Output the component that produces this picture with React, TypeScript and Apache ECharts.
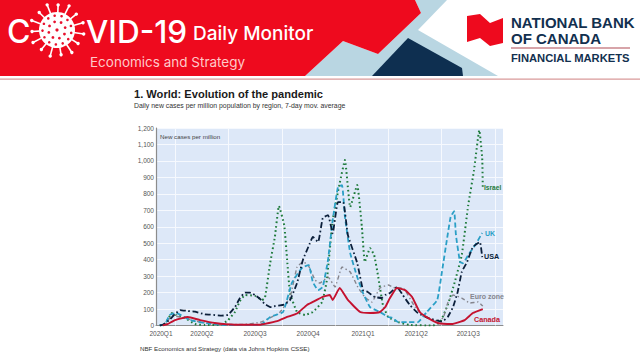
import React, { useEffect, useRef } from "react";
import * as echarts from "echarts";

// x = days since 2020-01-01, y = daily new cases per million
const usaDays = [65, 70, 82, 91, 100, 113, 125, 142, 151, 171, 182, 194, 202, 211, 219, 228, 237, 245, 254, 262, 271, 279, 288, 300, 310, 322, 327, 336, 344, 353, 361, 370, 379, 387, 403, 413, 421, 433, 445, 451, 459, 471, 481, 493, 507, 524, 548, 558, 567, 575, 582, 591, 601, 613, 617];
const usaVals = [0, 4, 35, 70, 94, 88, 84, 68, 66, 60, 65, 114, 165, 200, 200, 185, 160, 130, 112, 118, 122, 128, 155, 258, 398, 500, 538, 507, 653, 671, 560, 750, 750, 550, 380, 215, 204, 173, 167, 185, 197, 234, 185, 125, 76, 46, 23, 52, 112, 204, 325, 386, 477, 507, 416];
const israelDays = [65, 74, 86, 93, 108, 125, 142, 168, 182, 194, 202, 211, 228, 240, 245, 254, 262, 269, 278, 283, 288, 300, 314, 327, 343, 351, 361, 373, 382, 391, 403, 411, 416, 425, 432, 439, 447, 456, 473, 493, 533, 545, 558, 570, 582, 593, 603, 612, 617, 618];
const israelVals = [0, 10, 76, 64, 46, 9, 3, 3, 33, 84, 148, 185, 180, 155, 167, 380, 538, 726, 610, 398, 197, 82, 64, 82, 143, 276, 640, 865, 1005, 720, 853, 598, 386, 470, 428, 295, 125, 52, 21, 3, 0, 21, 125, 264, 428, 730, 944, 1187, 1017, 834];
const ukDays = [65, 74, 82, 93, 117, 142, 177, 237, 254, 276, 291, 302, 310, 320, 327, 336, 344, 353, 361, 370, 377, 382, 391, 403, 413, 425, 442, 456, 463, 473, 490, 507, 522, 540, 548, 557, 563, 569, 572, 579, 584, 593, 605, 617];
const ukVals = [0, 8, 64, 76, 33, 15, 3, 3, 52, 82, 258, 319, 355, 367, 264, 215, 234, 398, 640, 841, 853, 660, 440, 295, 197, 112, 82, 52, 46, 21, 21, 21, 82, 155, 325, 532, 660, 695, 550, 386, 378, 428, 489, 562];
const euroDays = [65, 74, 86, 108, 134, 168, 211, 237, 254, 271, 288, 300, 310, 319, 331, 339, 353, 365, 377, 391, 404, 416, 428, 442, 456, 468, 481, 502, 516, 536, 550, 558, 567, 582, 596, 610, 618];
const euroVals = [0, 5, 60, 45, 20, 7, 7, 20, 46, 82, 173, 355, 386, 367, 276, 258, 295, 234, 355, 325, 234, 173, 143, 228, 246, 228, 228, 112, 64, 27, 46, 137, 185, 167, 137, 143, 118];
const canadaDays = [70, 78, 91, 113, 134, 159, 194, 237, 242, 266, 283, 300, 317, 327, 343, 356, 361, 373, 387, 408, 425, 442, 451, 459, 471, 485, 497, 510, 524, 541, 565, 587, 601, 618];
const canadaVals = [0, 8, 33, 52, 33, 15, 5, 5, 8, 27, 52, 73, 125, 143, 173, 185, 155, 228, 155, 82, 76, 82, 112, 167, 228, 215, 173, 82, 46, 15, 9, 33, 76, 100];

const quarterStarts = [91, 182, 274, 366, 456, 547, 639];
const labelDays = [67, 137, 228, 319, 413, 504, 593];
const quarterLabels = ["2020Q1", "2020Q2", "2020Q3", "2020Q4", "2021Q1", "2021Q2", "2021Q3"];

const zip = (xs: number[], ys: number[]) => xs.map((x, i) => [x, ys[i]]);

function virus() {
  const cx = 57, cy = 30;
  const kids: any[] = [{ type: "circle", shape: { cx, cy, r: 18 }, style: { fill: "#fff" } }];
  for (let i = 0; i < 15; i++) {
    const a = (i / 15) * Math.PI * 2 + 0.15;
    const rEnd = i % 2 ? 25 : 27;
    const ex = cx + Math.cos(a) * rEnd, ey = cy + Math.sin(a) * rEnd;
    kids.push({ type: "line", shape: { x1: cx + Math.cos(a) * 15, y1: cy + Math.sin(a) * 15, x2: ex, y2: ey }, style: { stroke: "#fff", lineWidth: 1.6 } });
    kids.push({ type: "circle", shape: { cx: ex, cy: ey, r: 1.7 }, style: { fill: "#fff" } });
  }
  const ring = (r: number, n: number, s: number, off: number) => {
    for (let i = 0; i < n; i++) {
      const a = (i / n) * Math.PI * 2 + off;
      kids.push({ type: "circle", shape: { cx: cx + Math.cos(a) * r, cy: cy + Math.sin(a) * r, r: s }, style: { fill: "#e8112d" } });
    }
  };
  ring(14.5, 13, 1.3, 0.2);
  ring(8.5, 8, 1.4, 0.5);
  ring(0, 1, 1.6, 0);
  return kids;
}

const txt = (text: string, x: number, y: number, font: string, fill: string, extra: any = {}) => ({
  type: "text", x, y, z: 100, style: { text, font, fill, textVerticalAlign: "middle", ...extra },
});

const F = '"Liberation Sans", Arial, sans-serif';

export default function App() {
  const ref = useRef<HTMLDivElement>(null);
  useEffect(() => {
    document.body.style.margin = "0";
    const chart = echarts.init(ref.current!, null, { renderer: "svg" });
    const line = (name: string, data: number[][], color: string, type: any, width: number, z: number) => ({
      name, type: "line", data, showSymbol: false, symbol: "none", smooth: 0.12, z,
      lineStyle: { color, type, width, cap: "butt" },
    });
    chart.setOption({
      animation: false,
      backgroundColor: "#fff",
      grid: { left: 156, top: 128, width: 347, height: 197.5, show: true, backgroundColor: "#dde8f8", borderWidth: 0 },
      xAxis: {
        type: "value", min: 58.5, max: 652.6,
        axisLine: { show: true, onZero: false, lineStyle: { color: "#8c8c8c", width: 1 } },
        axisTick: { show: false, customValues: quarterStarts },
        splitLine: { show: false },
        axisLabel: {
          customValues: labelDays,
          formatter: (v: number) => quarterLabels[labelDays.indexOf(v)] ?? "",
          fontFamily: F, fontSize: 6.5, color: "#555", margin: 4,
        },
      },
      yAxis: {
        type: "value", min: 0, max: 1200, interval: 100,
        axisLine: { show: true, lineStyle: { color: "#8c8c8c", width: 1.2 } },
        axisTick: { show: false },
        splitLine: { show: true, lineStyle: { color: "#f6f9fe", width: 1 } },
        axisLabel: { fontFamily: F, fontSize: 6.5, color: "#555", margin: 2 },
      },
      series: [
        {
          name: "Quarter grid", type: "line", data: [], z: 1,
          markLine: {
            silent: true, symbol: "none", animation: false, z: 1, label: { show: false },
            lineStyle: { color: "#f6f9fe", width: 1, type: "solid" },
            data: quarterStarts.map((xAxis) => ({ xAxis })),
          },
        },
        line("Israel", zip(israelDays, israelVals), "#1d7a3a", [1.6, 2.8], 2, 2),
        line("Euro zone", zip(euroDays, euroVals), "#85858d", [4, 2.6, 1.4, 2.6], 1.4, 3),
        line("UK", zip(ukDays, ukVals), "#2a9fc6", [5, 2.8], 1.8, 4),
        line("USA", zip(usaDays, usaVals), "#0b1f3a", [6, 2.6, 1.6, 2.6], 1.8, 5),
        line("Canada", zip(canadaDays, canadaVals), "#c4122f", "solid", 1.9, 6),
      ],
      graphic: [
        { type: "rect", shape: { x: 0, y: 0, width: 640, height: 76 }, style: { fill: "#fff" } },
        { type: "polygon", shape: { points: [[343, 41], [378, 54], [421, 13], [415, 0], [447, 0], [418, 30], [498, 76], [305, 76]] }, style: { fill: "#b9d6e2" } },
        { type: "polygon", shape: { points: [[0, 0], [415, 0], [421, 13], [378, 54], [343, 41], [305, 76], [0, 76]] }, style: { fill: "#ee0a1e" } },
        { type: "polygon", shape: { points: [[408, 38], [462, 68], [463, 76], [372, 76]] }, style: { fill: "#0e2f50" } },
        { type: "rect", shape: { x: 0, y: 78.5, width: 640, height: 1.2 }, style: { fill: "#d99a9a" } },
        txt("C", 7, 31, `500 32px Inter, "Noto Sans", sans-serif`, "#fff"),
        { type: "group", children: virus() },
        txt("VID-19", 86, 31, `500 31.5px Inter, "Noto Sans", sans-serif`, "#fff"),
        txt("Daily Monitor", 193, 33, `500 19px Inter, "Noto Sans", sans-serif`, "#fff"),
        txt("Economics and Strategy", 90, 62, `400 13.5px Inter, "Noto Sans", sans-serif`, "#ffc9c9"),
        { type: "polygon", shape: { points: [[467, 16], [480, 14], [490, 23], [503, 18], [503, 43], [490, 46], [480, 38], [467, 42]] }, style: { fill: "#ee0a1e" } },
        txt("NATIONAL BANK", 511, 22.5, `bold 15px ${F}`, "#12304f"),
        txt("OF CANADA", 511, 38.5, `bold 15px ${F}`, "#12304f"),
        { type: "rect", shape: { x: 511, y: 47.5, width: 119, height: 1 }, style: { fill: "#b04a55" } },
        txt("FINANCIAL MARKETS", 511, 57.5, `bold 11.2px ${F}`, "#12304f"),
        txt("1. World: Evolution of the pandemic", 134, 94, `bold 11.1px ${F}`, "#1a1a1a"),
        txt("Daily new cases per million population by region, 7-day mov. average", 134, 105.5, `6.9px ${F}`, "#333"),
        txt("New cases per million", 160, 136, `6.2px ${F}`, "#444"),
        txt("Israel", 484, 187, `bold 6.6px ${F}`, "#1d7a3a"),
        txt("UK", 485, 233, `bold 7px ${F}`, "#2a9fc6"),
        txt("USA", 484, 256.5, `bold 7.2px ${F}`, "#0b1f3a"),
        txt("Euro zone", 470, 296, `bold 7px ${F}`, "#85858d"),
        txt("Canada", 474, 319, `bold 7.2px ${F}`, "#c4122f"),
        txt("NBF Economics and Strategy (data via Johns Hopkins CSSE)", 140, 348, `6.2px ${F}`, "#333"),
      ],
    });
    return () => chart.dispose();
  }, []);
  return <div ref={ref} style={{ position: "absolute", left: 0, top: 0, width: 640, height: 360 }} />;
}
